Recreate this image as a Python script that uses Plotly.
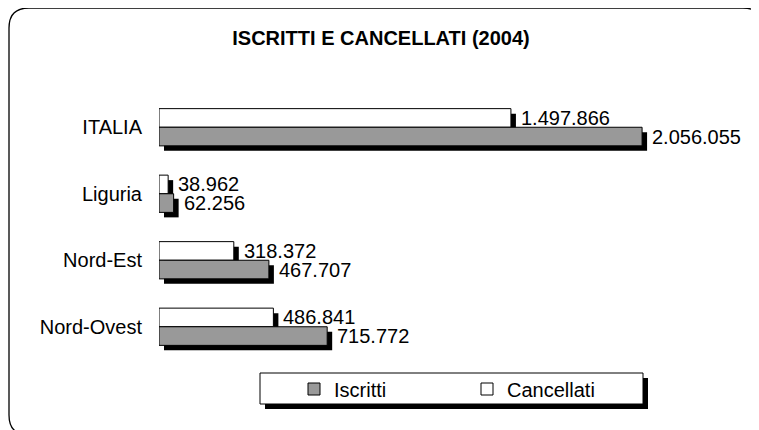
import plotly.graph_objects as go

# data
categories = ["ITALIA", "Liguria", "Nord-Est", "Nord-Ovest"]
iscritti = [2056055, 62256, 467707, 715772]
cancellati = [1497866, 38962, 318372, 486841]

# page geometry (px); the page body adds an 8px margin around the figure,
# so positions below are given in screen pixels and shifted by OFF
WIDTH, HEIGHT = 759, 430
OFF = 8
PLOT_LEFT, PLOT_RIGHT, PLOT_TOP, PLOT_BOTTOM = 159, 733, 94, 360
L = PLOT_LEFT - OFF
T = PLOT_TOP - OFF
R = WIDTH - (PLOT_RIGHT - OFF)
B = HEIGHT - (PLOT_BOTTOM - OFF)
PW, PH = PLOT_RIGHT - PLOT_LEFT, PLOT_BOTTOM - PLOT_TOP
XMAX = 2443000
BAR_W = 0.28
SHADOW_PX = 5
SHADOW_DX = SHADOW_PX * XMAX / PW
SHADOW_DY = SHADOW_PX * 4 / PH

FONT = "Liberation Sans, Arial, sans-serif"
FSIZE = 20
GREY = "#999999"


def px_x(px):
    return (px - PLOT_LEFT) / PW


def px_y(py):
    return (PLOT_BOTTOM - py) / PH


def fmt(v):
    return "{:,}".format(v).replace(",", ".")


pos = list(range(len(categories)))

fig = go.Figure()

# drop shadows
fig.add_trace(go.Bar(y=pos, x=cancellati, base=SHADOW_DX, orientation="h",
                     width=BAR_W, offset=-BAR_W + SHADOW_DY,
                     marker=dict(color="black", line=dict(width=0)),
                     showlegend=False, hoverinfo="skip"))
fig.add_trace(go.Bar(y=pos, x=iscritti, base=SHADOW_DX, orientation="h",
                     width=BAR_W, offset=SHADOW_DY,
                     marker=dict(color="black", line=dict(width=0)),
                     showlegend=False, hoverinfo="skip"))

# the real bars
fig.add_trace(go.Bar(y=pos, x=cancellati, orientation="h", name="Cancellati",
                     width=BAR_W, offset=-BAR_W, legendrank=2,
                     marker=dict(color="white", line=dict(color="black", width=1))))
fig.add_trace(go.Bar(y=pos, x=iscritti, orientation="h", name="Iscritti",
                     width=BAR_W, offset=0, legendrank=1,
                     marker=dict(color=GREY, line=dict(color="black", width=1))))

# value labels
for i in pos:
    fig.add_annotation(x=cancellati[i], y=i - BAR_W / 2, text=fmt(cancellati[i]),
                       xanchor="left", yanchor="middle", xshift=8, showarrow=False,
                       font=dict(size=FSIZE, color="black", family=FONT))
    fig.add_annotation(x=iscritti[i], y=i + BAR_W / 2, text=fmt(iscritti[i]),
                       xanchor="left", yanchor="middle", xshift=8, showarrow=False,
                       font=dict(size=FSIZE, color="black", family=FONT))

# outer rounded frame (cropped on the right and bottom like the original)
x0, y0, x1, y1, rr = 9, 8, 763, 435, 20
pts = [
    ("M", x0 + rr, y0), ("L", x1 - rr, y0), ("Q", x1, y0, x1, y0 + rr),
    ("L", x1, y1 - rr), ("Q", x1, y1, x1 - rr, y1), ("L", x0 + rr, y1),
    ("Q", x0, y1, x0, y1 - rr), ("L", x0, y0 + rr), ("Q", x0, y0, x0 + rr, y0),
]
path = ""
for p in pts:
    cmd, coords = p[0], p[1:]
    xy = []
    for k in range(0, len(coords), 2):
        xy.append("{:.5f},{:.5f}".format(px_x(coords[k]), px_y(coords[k + 1])))
    path += cmd + " " + " ".join(xy) + " "
fig.add_shape(type="path", path=path + "Z", xref="paper", yref="paper",
              line=dict(color="black", width=1.3), layer="below")

# legend box with shadow
fig.add_shape(type="rect", xref="paper", yref="paper",
              x0=px_x(265), x1=px_x(648), y0=px_y(409), y1=px_y(378),
              fillcolor="black", line=dict(width=0), layer="above")
fig.add_shape(type="rect", xref="paper", yref="paper",
              x0=px_x(260), x1=px_x(643), y0=px_y(404), y1=px_y(373),
              fillcolor="white", line=dict(color="black", width=1), layer="above")

fig.update_layout(
    width=WIDTH, height=HEIGHT,
    margin=dict(l=L, r=R, t=T, b=B),
    paper_bgcolor="white", plot_bgcolor="white",
    barmode="overlay",
    font=dict(family=FONT, size=FSIZE, color="black"),
    title=dict(text="<b>ISCRITTI E CANCELLATI (2004)</b>", x=(381 - OFF) / WIDTH,
               xanchor="center", y=1 - (38 - OFF) / HEIGHT, yanchor="middle",
               font=dict(size=FSIZE, family=FONT, color="black")),
    xaxis=dict(range=[0, XMAX], visible=False, fixedrange=True),
    yaxis=dict(range=[len(categories) - 0.5, -0.5], tickvals=pos, ticktext=categories,
               showgrid=False, zeroline=False, showline=False, ticks="",
               ticklabelstandoff=16, tickfont=dict(size=FSIZE, family=FONT)),
    legend=dict(orientation="h", x=px_x(294), xanchor="left",
                y=px_y(389), yanchor="middle", bgcolor="rgba(0,0,0,0)",
                borderwidth=0, entrywidth=128, font=dict(size=FSIZE, family=FONT),
                traceorder="normal"),
    showlegend=True,
)

fig.write_html("out.html")
